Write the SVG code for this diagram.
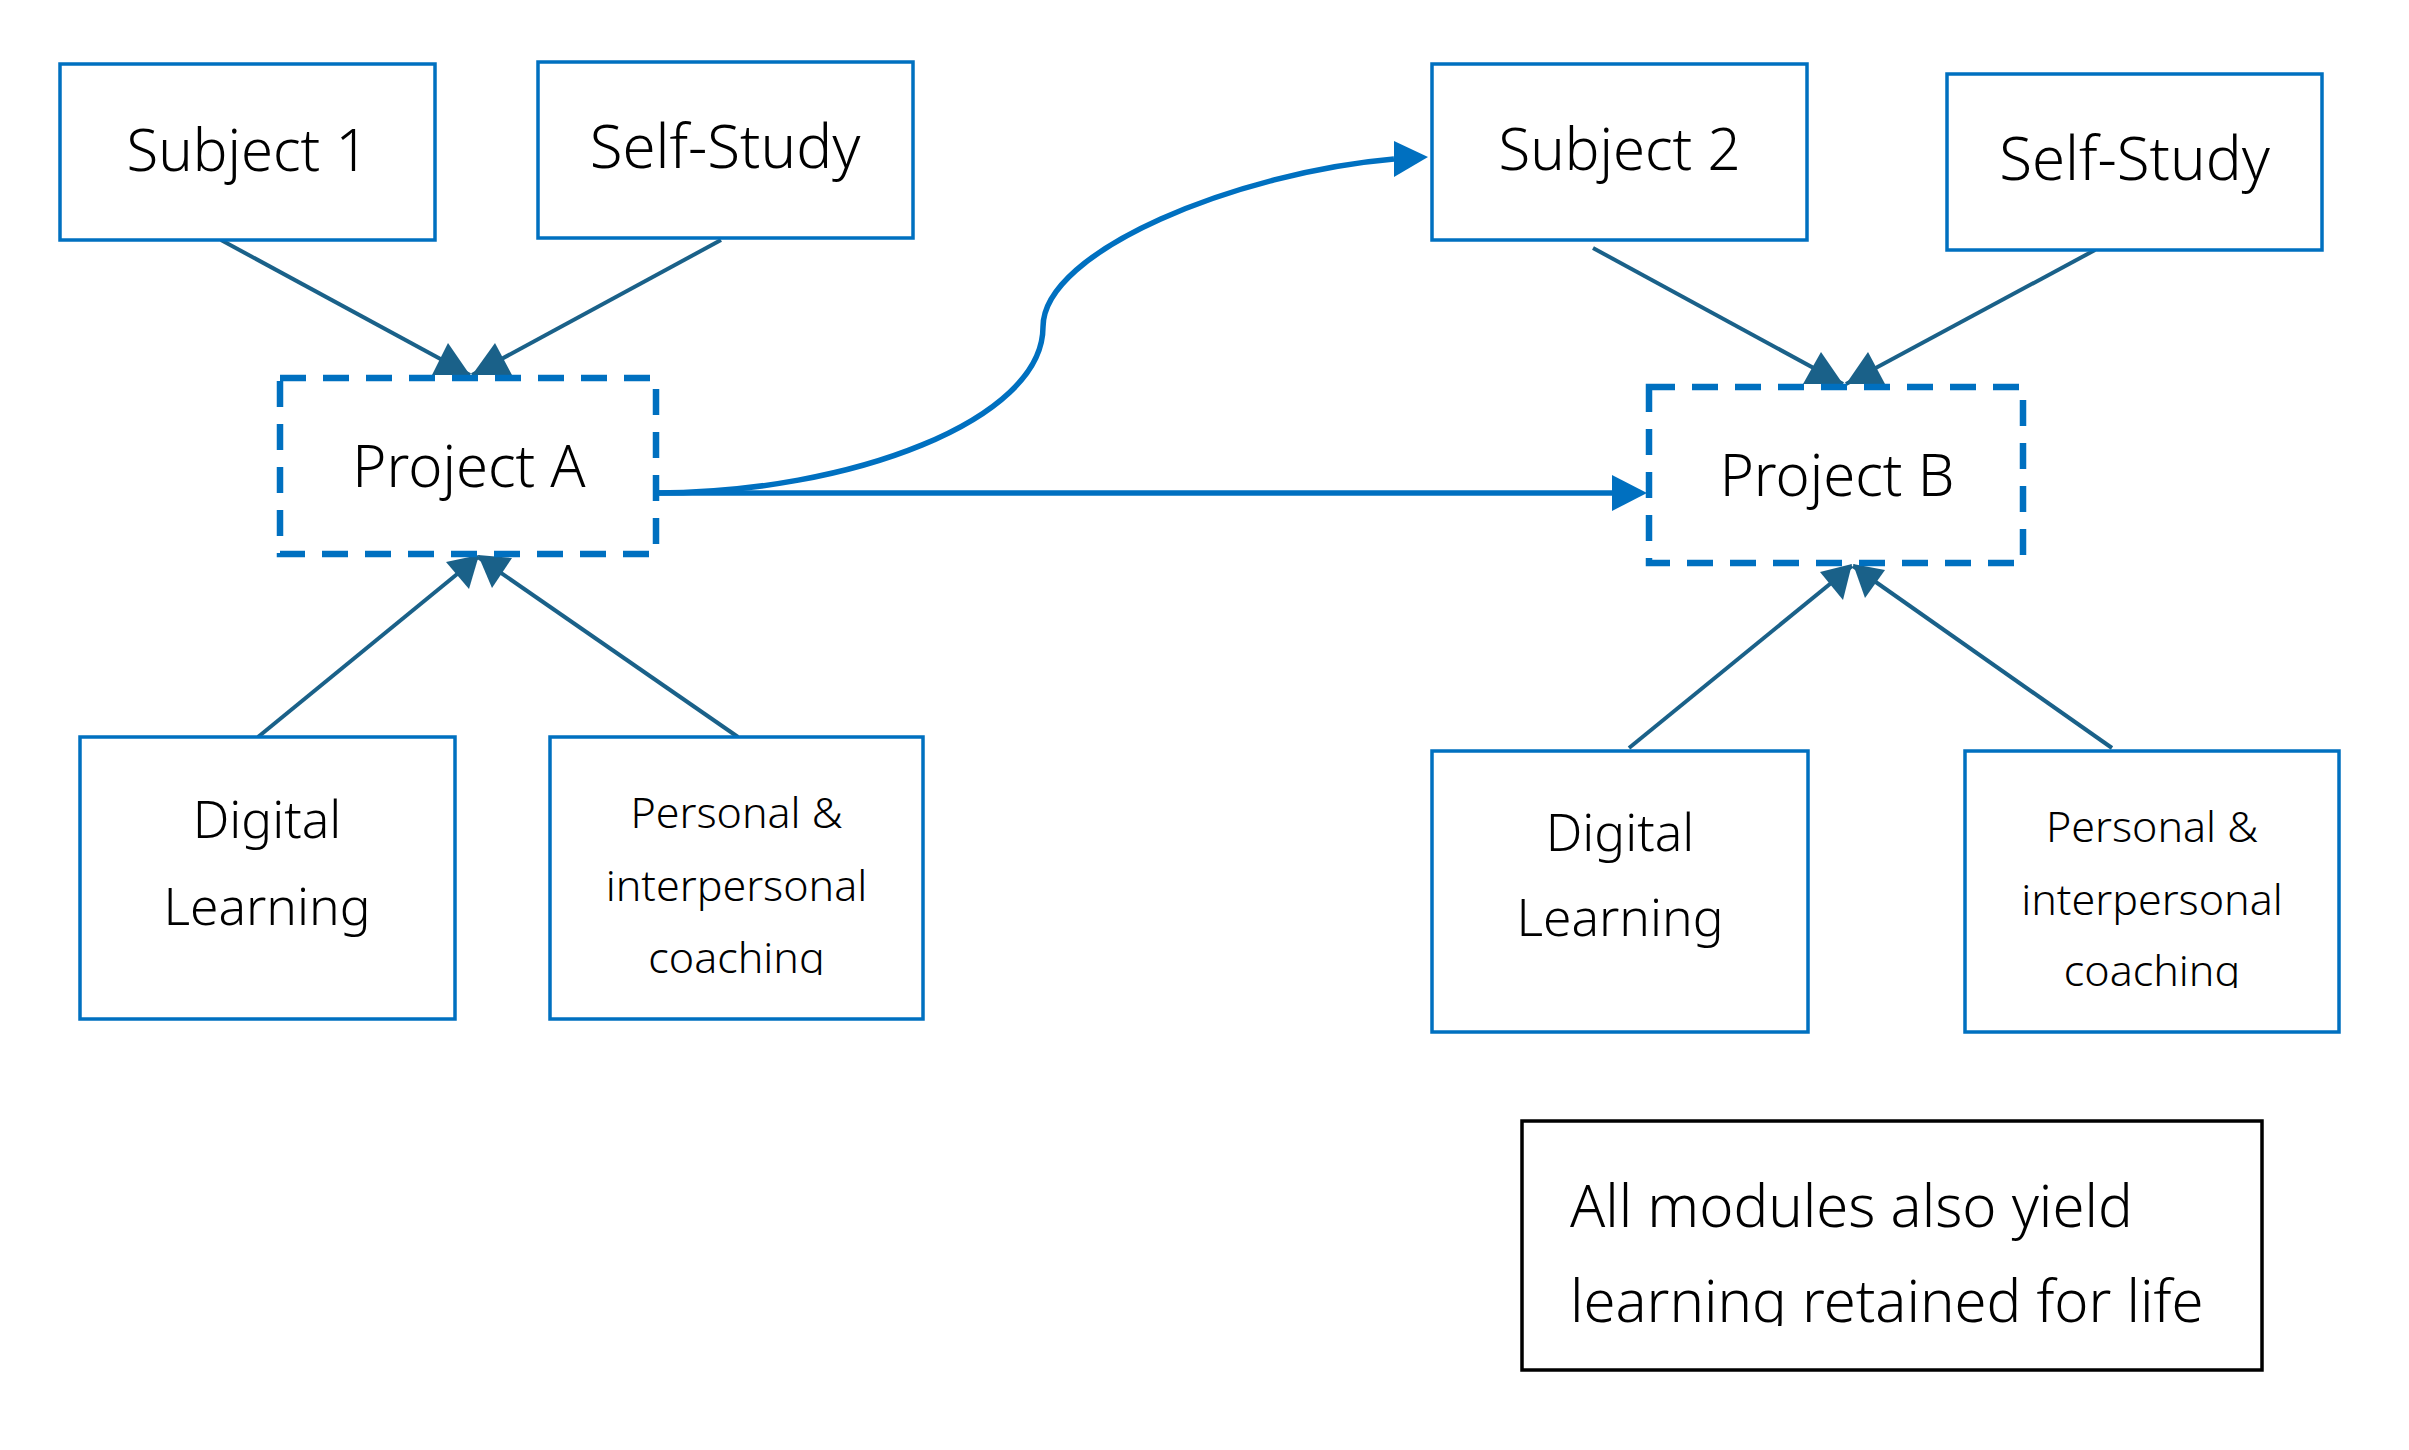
<svg xmlns="http://www.w3.org/2000/svg" width="2409" height="1450" viewBox="0 0 2409 1450">
<style>
.box{fill:#fff;stroke:#0070C0;stroke-width:3.5}
.dash{fill:#fff;stroke:#0070C0;stroke-width:6.5;stroke-dasharray:26 17}
.note{fill:#fff;stroke:#000;stroke-width:3.5}
.t{font-family:"Noto Sans","Open Sans","DejaVu Sans",sans-serif;font-weight:300;fill:#000;text-anchor:middle}
.big{font-size:58px}
.ss{font-size:60px}
.mid{font-size:51.5px}
.sm{font-size:43px}
.nt{font-size:58px;text-anchor:start}
.tl{fill:none;stroke:#1A6189;stroke-width:4}
.ah{fill:#1A6189;stroke:none}
.bl{fill:none;stroke:#0070C0;stroke-width:5.5}
.bah{fill:#0070C0;stroke:none}
</style>
<defs>
<clipPath id="cpL"><rect x="550" y="737" width="373" height="238"/></clipPath>
<clipPath id="cpR"><rect x="1965" y="751" width="374" height="237"/></clipPath>
<clipPath id="cpN"><rect x="1522" y="1121" width="740" height="205"/></clipPath>
</defs>
<rect width="2409" height="1450" fill="#fff"/>

<g id="connectors">
<line class="tl" x1="221" y1="240" x2="470" y2="375"/>
<line class="tl" x1="721" y1="240" x2="472" y2="375"/>
<polygon class="ah" points="432,375 448,343 470,375"/>
<polygon class="ah" points="472,375 495,343 512,375"/>
<line class="tl" x1="258" y1="737" x2="478" y2="557"/>
<line class="tl" x1="738" y1="737" x2="478" y2="557"/>
<polygon class="ah" points="446,562 479,555 469,589"/>
<polygon class="ah" points="478,555 512,558 492,588"/>
<line class="tl" x1="1593" y1="248" x2="1843" y2="384"/>
<line class="tl" x1="2095" y1="250" x2="1846" y2="384"/>
<polygon class="ah" points="1803,384 1821,352 1843,384"/>
<polygon class="ah" points="1846,384 1868,352 1885,384"/>
<line class="tl" x1="1629" y1="748" x2="1852" y2="566"/>
<line class="tl" x1="2112" y1="748" x2="1853" y2="566"/>
<polygon class="ah" points="1820,572 1852,564 1843,600"/>
<polygon class="ah" points="1853,564 1885,570 1865,598"/>
<path class="bl" d="M656,493 C850,493 1043,420 1043,327 C1043,250 1240,172 1394,159"/>
<polygon class="bah" points="1428,157 1394,141 1394,177"/>
<line class="bl" x1="656" y1="493" x2="1613" y2="493"/>
<polygon class="bah" points="1647,493 1612,475 1612,511"/>
</g>

<g id="subject1">
<rect class="box" x="60" y="64" width="375" height="176"/>
<text class="t big" x="247.5" y="171">Subject 1</text>
</g>
<g id="selfstudy1">
<rect class="box" x="538" y="62" width="375" height="176"/>
<text class="t ss" x="725" y="168">Self-Study</text>
</g>
<g id="projectA">
<rect class="dash" x="280" y="378" width="376" height="176"/>
<text class="t big" x="469" y="487">Project A</text>
</g>
<g id="digital1">
<rect class="box" x="80" y="737" width="375" height="282"/>
<text class="t mid" x="267" y="838">Digital</text>
<text class="t mid" x="267" y="925">Learning</text>
</g>
<g id="personal1">
<rect class="box" x="550" y="737" width="373" height="282"/>
<g clip-path="url(#cpL)">
<text class="t sm" x="736.5" y="828">Personal &amp;</text>
<text class="t sm" x="736.5" y="901">interpersonal</text>
<text class="t sm" x="736.5" y="973">coaching</text>
</g>
</g>
<g id="subject2">
<rect class="box" x="1432" y="64" width="375" height="176"/>
<text class="t big" x="1619.5" y="170">Subject 2</text>
</g>
<g id="selfstudy2">
<rect class="box" x="1947" y="74" width="375" height="176"/>
<text class="t ss" x="2134.5" y="180">Self-Study</text>
</g>
<g id="projectB">
<rect class="dash" x="1649" y="387" width="374" height="176"/>
<text class="t big" x="1837" y="496">Project B</text>
</g>
<g id="digital2">
<rect class="box" x="1432" y="751" width="376" height="281"/>
<text class="t mid" x="1620" y="851">Digital</text>
<text class="t mid" x="1620" y="936">Learning</text>
</g>
<g id="personal2">
<rect class="box" x="1965" y="751" width="374" height="281"/>
<g clip-path="url(#cpR)">
<text class="t sm" x="2152" y="842">Personal &amp;</text>
<text class="t sm" x="2152" y="915">interpersonal</text>
<text class="t sm" x="2152" y="986">coaching</text>
</g>
</g>
<g id="note">
<rect class="note" x="1522" y="1121" width="740" height="249"/>
<g clip-path="url(#cpN)">
<text class="t nt" x="1570" y="1227">All modules also yield</text>
<text class="t nt" x="1570" y="1322">learning retained for life</text>
</g>
</g>
</svg>
